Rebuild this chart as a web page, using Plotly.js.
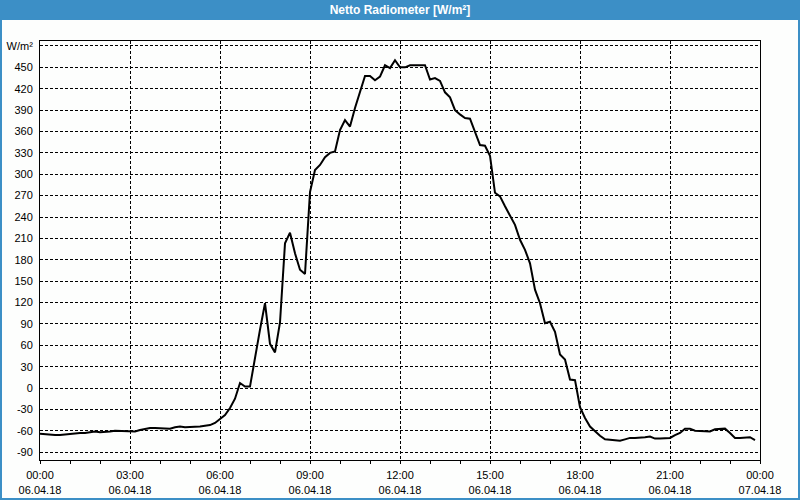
<!DOCTYPE html>
<html>
<head>
<meta charset="utf-8">
<script src="https://cdn.plot.ly/plotly-3.0.1.min.js"></script>
<style>
html,body{margin:0;padding:0;background:#fdfefd;}
#chart{width:800px;height:500px;}
</style>
</head>
<body>
<div id="chart"></div>
<script>
// Net radiation, 10-minute readings on 06.04.18 (W/m²)
const dayStart = '2018-04-06';
const stepMinutes = 10;

const night = [ // 00:00 - 05:50
  -64,-65,-65,-66,-66,-65,-65,-64,-63,-63,-62,-61,
  -62,-62,-61,-60,-60,-60,-60,-61,-59,-57,-56,-56,
  -56,-57,-57,-55,-54,-55,-55,-55,-54,-53,-52,-49
];
const morning = [ // 06:00 - 11:50
  -43,-38,-28,-15,7,2,2,45,82,119,62,50,
  92,203,218,189,166,160,275,306,313,324,330,332,
  362,376,367,393,417,438,438,432,437,453,449,460
];
const afternoon = [ // 12:00 - 17:50
  450,450,453,453,453,453,433,435,431,415,408,390,
  384,379,378,358,341,340,326,274,269,255,241,229,
  208,194,175,138,119,91,93,79,47,40,12,11
];
const evening = [ // 18:00 - 23:50
  -27,-42,-54,-61,-67,-72,-73,-74,-74,-72,-70,-70,
  -70,-69,-68,-71,-71,-70,-70,-66,-63,-57,-57,-60,
  -60,-61,-61,-58,-57,-57,-63,-70,-70,-70,-69,-73
];

const yTickValues = [-90,-60,-30,0,30,60,90,120,150,180,210,240,270,300,330,360,390,420,450,480];
const yUnitLabel = 'W/m²';
const xTickTimes = ['00:00','03:00','06:00','09:00','12:00','15:00','18:00','21:00','00:00'];
const xTickDates = ['06.04.18','06.04.18','06.04.18','06.04.18','06.04.18','06.04.18','06.04.18','06.04.18','07.04.18'];
const xTickStamps = ['2018-04-06 00:00','2018-04-06 03:00','2018-04-06 06:00','2018-04-06 09:00','2018-04-06 12:00','2018-04-06 15:00','2018-04-06 18:00','2018-04-06 21:00','2018-04-07 00:00'];

const values = night.concat(morning, afternoon, evening);
function pad(n){return (n<10?'0':'')+n;}
const times = values.map((v,i)=>{
  const m = i*stepMinutes;
  return dayStart+' '+pad(Math.floor(m/60))+':'+pad(m%60);
});

const yTickText = yTickValues.map((v,i)=> i===yTickValues.length-1 ? yUnitLabel : String(v));
const xTickText = xTickTimes.map((t,i)=> t+'<br>'+xTickDates[i]);

const W=800,H=500,L=40,R=40,T=41,B=40;
const pw=W-L-R, ph=H-T-B;
const px = x => (x-L)/pw;
const py = y => 1-(y-T)/ph;

const blue = '#3c8fc6';
const font = {family:'Liberation Sans, Arial, sans-serif', size:11, color:'#000'};

Plotly.newPlot('chart',[{
  x: times, y: values, type:'scatter', mode:'lines',
  line:{color:'#000', width:2, shape:'linear'},
  hoverinfo:'skip'
}],{
  width:W, height:H,
  margin:{l:L,r:R,t:T,b:B,pad:0},
  paper_bgcolor:'#fdfefd', plot_bgcolor:'#fdfefd',
  showlegend:false,
  font: font,
  title:{text:'<b>Netto Radiometer [W/m²]</b>', font:{family:'Liberation Sans, Arial, sans-serif', size:12, color:'#fff'},
    x:0.5, xref:'paper', xanchor:'center', y:1-10/H, yref:'container', yanchor:'middle'},
  xaxis:{
    type:'date', range:['2018-04-06 00:00','2018-04-07 00:00'],
    tickmode:'array', tickvals:xTickStamps, ticktext:xTickText,
    ticks:'outside', ticklen:3, tickcolor:'#000', tickwidth:1,
    ticklabelstandoff:2,
    showgrid:true, gridcolor:'#000', gridwidth:1, griddash:'3px,2px',
    minor:{dtick:3600000, ticks:'outside', ticklen:3, tickcolor:'#000', showgrid:false},
    showline:true, linecolor:'#000', linewidth:1, mirror:true,
    tickfont:font, zeroline:false, fixedrange:true
  },
  yaxis:{
    range:[-101,487],
    tickmode:'array', tickvals:yTickValues, ticktext:yTickText,
    ticks:'', ticklabelstandoff:4,
    showgrid:true, gridcolor:'#000', gridwidth:1, griddash:'3px,2px',
    showline:true, linecolor:'#000', linewidth:1, mirror:true,
    tickfont:font, zeroline:false, fixedrange:true
  },
  shapes:[
    {type:'rect', xref:'paper', yref:'paper', x0:px(0), x1:px(W), y0:py(20), y1:py(0),
     fillcolor:blue, line:{width:0}, layer:'below'},
    {type:'rect', xref:'paper', yref:'paper', x0:px(1), x1:px(W-1), y0:py(H-1), y1:py(1),
     fillcolor:'rgba(0,0,0,0)', line:{color:blue, width:2}, layer:'above'}
  ]
},{staticPlot:true, displayModeBar:false});
</script>
</body>
</html>
